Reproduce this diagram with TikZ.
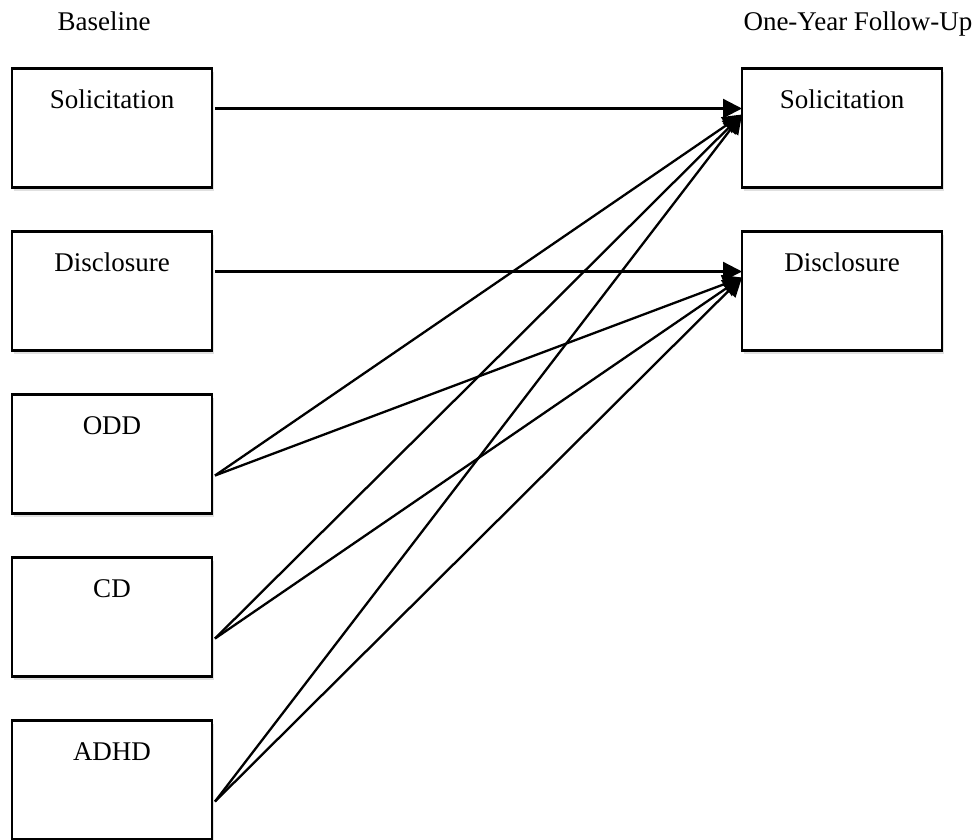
\documentclass[tikz,border=0pt]{standalone}
\usepackage{fontspec}
\setmainfont{Liberation Serif}
\usetikzlibrary{positioning,arrows.meta,shadows}

\tikzset{
  varbox/.style={draw, line width=2.6pt, fill=white, outer sep=0pt,
    minimum width=200pt, minimum height=119pt, inner ysep=0pt,
    text height=40pt, text depth=79pt,
    drop shadow={shadow xshift=2pt, shadow yshift=-3pt, opacity=.12, fill=black}},
  head/.style={anchor=base},
  link/.style={line width=2.3pt, -{Triangle[length=19pt,width=19pt]}},
}

\begin{document}
\begin{tikzpicture}[x=1pt, y=-1pt, font=\fontsize{27}{30}\selectfont]
\useasboundingbox (0,0) rectangle (980,839);

% baseline measures
\node[varbox, anchor=north west] (sol) at (12,68.5) {Solicitation};
\node[varbox, below=44pt of sol] (dis) {Disclosure};
\node[varbox, below=44pt of dis] (odd) {ODD};
\node[varbox, below=44pt of odd] (cd) {CD};
\node[varbox, below=44pt of cd] (adhd) {ADHD};

% follow-up measures
\node[varbox, right=530pt of sol] (sol2) {Solicitation};
\node[varbox, right=530pt of dis] (dis2) {Disclosure};

\node[head] (base) at (104,30) {Baseline};
\node[head] (follow) at (858,30) {One-Year Follow-Up};

\coordinate (sol-out) at ([xshift=3pt,yshift=-40pt]sol.north east);
\coordinate (dis-out) at ([xshift=3pt,yshift=-40pt]dis.north east);
\foreach \v in {odd,cd,adhd}
  \coordinate (\v-out) at ([xshift=3pt,yshift=-81pt]\v.north east);
\coordinate (sol-in) at ([yshift=-46pt]sol2.north west);
\coordinate (dis-in) at ([yshift=-46pt]dis2.north west);

\draw[link] (sol-out) -- (sol-out -| sol2.west);
\draw[link] (dis-out) -- (dis-out -| dis2.west);
\foreach \v in {odd,cd,adhd}{
  \draw[link] (\v-out) -- (sol-in);
  \draw[link] (\v-out) -- (dis-in);
}

\end{tikzpicture}
\end{document}
